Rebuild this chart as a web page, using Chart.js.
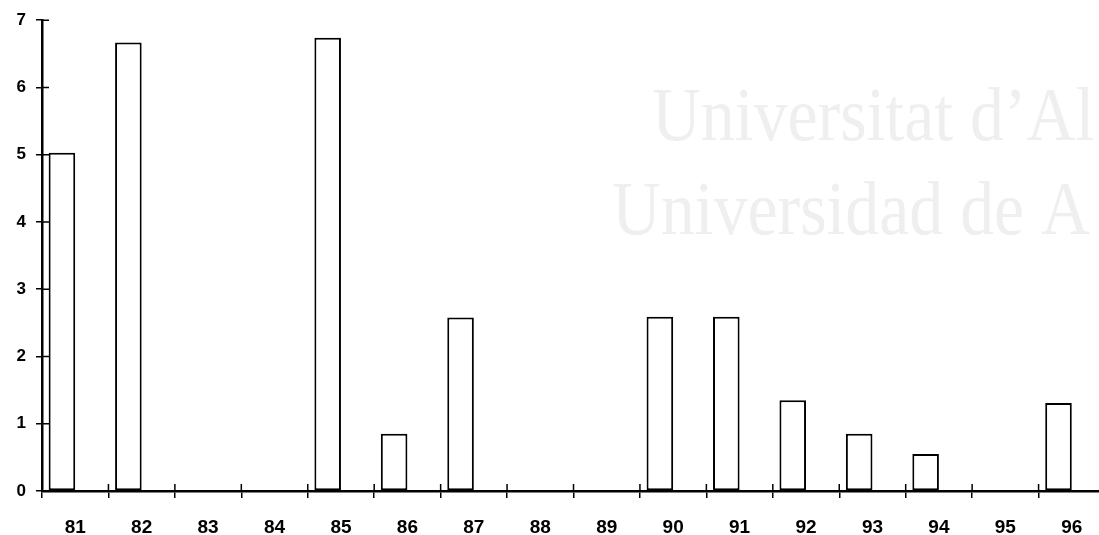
<!DOCTYPE html>
<html>
<head>
<meta charset="utf-8">
<script src="https://cdn.jsdelivr.net/npm/chart.js@4/dist/chart.umd.min.js"></script>
<style>
  html, body { margin: 0; padding: 0; background: #fff; overflow: hidden; }
  #wrap { width: 1105px; height: 535px; }
</style>
</head>
<body>
<div id="wrap"><canvas id="myChart"></canvas></div>
<script>
// years on the x axis
const years = ['81', '82', '83', '84', '85', '86', '87', '88', '89', '90', '91', '92', '93', '94', '95', '96'];
// bar heights (null = no bar)
const values = [5.03, 6.67, null, null, 6.74, 0.85, 2.58, null, null, 2.59, 2.59, 1.35, 0.85, 0.55, null, 1.31];
// empty partner series so each bar sits on the left half of its slot
const spacer = years.map(() => null);
const yTicks = [0, 1, 2, 3, 4, 5, 6, 7];
const watermark = ['Universitat d\u2019Al', 'Universidad de A'];

// faint scanned watermark behind the chart
const bgText = {
    id: 'bgText',
    beforeDraw(chart) {
        const c = chart.ctx;
        c.save();
        c.fillStyle = '#efefef';
        c.font = '77px "Liberation Serif"';
        c.textBaseline = 'alphabetic';
        c.scale(0.88, 1);
        c.fillText(watermark[0], 652 / 0.88, 140);
        c.fillText(watermark[1], 612 / 0.88, 234);
        c.restore();
    }
};

// tick marks poking into the plot too, like the original
const innerTicks = {
    id: 'innerTicks',
    afterDraw(chart) {
        const c = chart.ctx;
        const x = chart.scales.x;
        const y = chart.scales.y;
        c.save();
        c.strokeStyle = '#000';
        c.lineWidth = 1.5;
        c.beginPath();
        y.ticks.forEach((t, i) => {
            const py = y.getPixelForTick(i);
            c.moveTo(x.left, py);
            c.lineTo(x.left + 7, py);
        });
        const step = x.width / years.length;
        for (let i = 0; i <= years.length; i++) {
            const px = x.left + i * step;
            c.moveTo(px, y.bottom);
            c.lineTo(px, y.bottom - 7);
        }
        c.stroke();
        c.restore();
    }
};

const ctx = document.getElementById('myChart').getContext('2d');
let myChart = new Chart(ctx, {
    type: 'bar',
    data: {
        labels: years,
        datasets: [{
            data: values,
            backgroundColor: '#fff',
            borderColor: '#000',
            borderWidth: 2,
            borderSkipped: false,
            categoryPercentage: 0.8,
            barPercentage: 1
        }, {
            data: spacer,
            categoryPercentage: 0.8,
            barPercentage: 1
        }]
    },
    options: {
        responsive: true,
        maintainAspectRatio: false,
        animation: false,
        layout: { padding: { top: 20, right: 0, bottom: 0, left: 0 } },
        plugins: { legend: { display: false }, tooltip: { enabled: false } },
        scales: {
            x: {
                grid: { drawOnChartArea: false, offset: true, tickLength: 7, color: '#000', lineWidth: 1.5 },
                border: { color: '#000', width: 2.5 },
                ticks: { color: '#000', font: { family: 'Liberation Sans', size: 19, weight: 'bold' }, padding: 18, maxRotation: 0, autoSkip: false },
                afterFit(scale) { scale.height = 44; }
            },
            y: {
                min: 0,
                max: 7,
                afterBuildTicks(scale) { scale.ticks = yTicks.map(v => ({ value: v })); },
                grid: { drawOnChartArea: false, tickLength: 6, color: '#000', lineWidth: 1.5 },
                border: { color: '#000', width: 2.5 },
                ticks: { color: '#000', font: { family: 'Liberation Sans', size: 17, weight: 'bold' }, padding: 10 },
                afterFit(scale) { scale.width = 42; }
            }
        }
    },
    plugins: [bgText, innerTicks]
});
</script>
</body>
</html>
